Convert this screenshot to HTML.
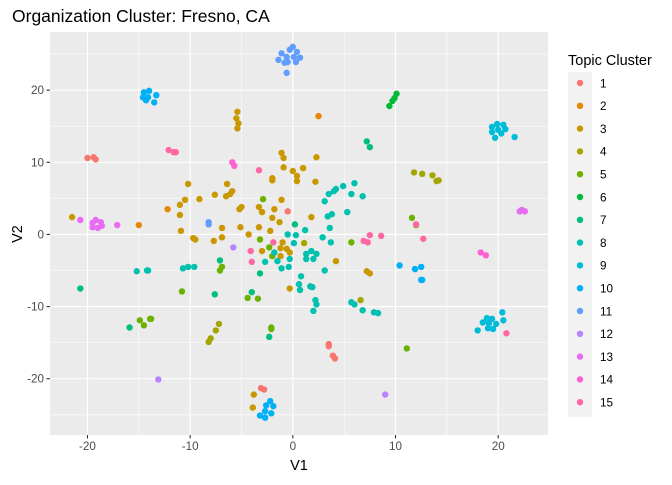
<!DOCTYPE html>
<html><head><meta charset="utf-8"><style>
body{margin:0;background:#fff;}
svg text{font-family:"Liberation Sans",Arial,sans-serif;}
</style></head><body>
<svg id="chart" width="672" height="480" xmlns="http://www.w3.org/2000/svg">
<text x="12" y="22" font-size="17.5" fill="#000">Organization Cluster: Fresno, CA</text>
<rect x="50" y="32" width="498" height="403" fill="#ebebeb"/>
<g id="grid"></g>
<g id="points"></g>
<g id="axes"></g>
<text x="299" y="470" font-size="14.5" text-anchor="middle">V1</text>
<text x="22" y="234" font-size="14.5" text-anchor="middle" transform="rotate(-90 22 234)">V2</text>
<g id="legend">
<text x="568" y="65" font-size="14.5">Topic Cluster</text>
</g>
</svg>
<script>
const xTicks=[-20,-10,0,10,20];
const yTicks=[-20,-10,0,10,20];
const clusterNames=["1","2","3","4","5","6","7","8","9","10","11","12","13","14","15"];
const colors=["#F8766D","#E58700","#C99800","#A3A500","#6BB100","#00BA38","#00BF7D","#00C0AF","#00BCD8","#00B0F6","#619CFF","#B983FF","#E76BF3","#FD61D1","#FF67A4"];
const c1=[[-20.0,10.6],[-19.4,10.7],[-19.2,10.4],[-0.5,3.2],[-3.1,-21.3],[-2.8,-21.5],[3.5,-15.2],[3.5,-15.5],[3.9,-16.8],[4.1,-17.2]];
const c2=[[-12.2,3.5],[-15.0,1.3],[2.5,16.4]];
const c3=[[-5.4,17.0],[-5.5,16.1],[-5.3,15.4],[-5.4,14.7],[-1.1,11.3],[-0.9,10.6],[-0.9,9.3],[-2.0,7.8],[-2.0,7.5],[0,8.8],[0.4,8.1],[0.4,7.4],[1.0,9.2],[2.3,10.7],[2.2,7.3],[1.8,2.4],[-10.2,7.0],[-6.4,7.0],[-5.9,6.0],[-6.1,5.6],[-6.5,5.3],[-7.6,5.5],[-9.1,4.9],[-10.5,4.8],[-11.0,4.1],[-11.0,2.7],[-10.9,0.5],[-5.2,3.5],[-5.0,3.8],[-3.3,3.8],[-3.0,3.1],[-1.8,3.5],[-1.1,4.8],[-2.0,2.3],[-1.3,1.7],[-2.2,0.5],[-3.3,1.0],[-5.1,1.0],[-4.3,0.0],[-6.9,0.9],[-21.5,2.4],[-9.7,-0.5],[-9.5,-0.7],[-7.7,-0.9],[-6.9,-0.4],[-3.0,-2.3],[-1.2,-1.9],[-1.0,-1.1],[-0.6,-2.0],[-0.3,-2.5],[-1.2,-3.0],[-0.3,-7.5],[4.2,-3.7],[7.2,-5.1],[7.5,-5.4],[-3.8,-22.2],[-3.9,-24.0]];
const c4=[[11.8,8.6],[12.6,8.4],[13.6,8.2],[14.0,7.4],[14.2,7.5],[6.6,-9.1],[-7.2,-12.4],[-7.5,-13.3],[-8.0,-14.4],[-8.2,-14.9],[1.1,-1.2]];
const c5=[[-2.9,4.9],[11.6,2.3],[-6.9,-4.5],[-7.1,-5.0],[-10.8,-7.9],[-4.4,-8.8],[-3.4,-8.9],[-3.2,-0.7],[-2.3,-1.8],[-2.0,-3.0],[-14.9,-11.9],[-14.5,-12.6],[-13.9,-11.7],[-13.8,-11.7],[-2.1,-12.9],[-2.1,-13.1],[5.7,-1.1],[11.1,-15.8],[12.0,1.3]];
const c6=[[10.1,19.5],[9.9,18.9],[9.7,18.5],[9.4,17.8]];
const c7=[[7.2,12.9],[7.5,12.1],[0.2,1.4],[-20.7,-7.5],[-7.1,-3.6],[-7.6,-8.3],[-4.0,-8.0],[-3.2,-5.4],[-2.3,-14.2],[-15.9,-12.9]];
const c8=[[6.0,7.1],[4.9,6.7],[4.2,6.3],[4.0,6.0],[3.5,5.6],[5.7,5.6],[6.8,5.3],[3.1,4.6],[5.3,3.1],[3.8,2.8],[3.4,2.5],[1.2,0.6],[3.6,0.9],[0.3,-0.1],[2.9,-0.4],[-0.5,0.0],[0.1,-1.2],[3.7,-1.1],[1.8,-2.3],[1.3,-2.7],[2.3,-2.7],[1.3,-3.4],[2.0,-3.4],[-1.8,-2.5],[-1.5,-3.7],[-0.3,-3.4],[-2.7,-3.8],[-1.1,-4.7],[-0.4,-4.5],[0.8,-5.8],[0.6,-6.9],[0.7,-7.7],[1.7,-7.2],[1.9,-7.3],[3.1,-5.0],[2.2,-9.1],[2.3,-9.7],[2.0,-10.6],[5.7,-9.4],[6.0,-9.7],[6.8,-10.5],[7.9,-10.8],[8.3,-10.9],[-10.7,-4.7],[-10.2,-4.5],[-9.6,-4.5],[-15.2,-5.1],[-14.2,-5.0],[-14.1,-5.0]];
const c9=[[19.4,14.9],[19.9,15.3],[20.5,15.2],[20.0,14.5],[20.7,14.6],[20.3,14.0],[19.4,14.2],[19.7,13.4],[21.6,13.5],[18.0,-13.3],[18.5,-12.2],[18.9,-11.6],[19.4,-11.7],[19.1,-12.3],[19.8,-12.4],[19.0,-13.0],[19.5,-13.1],[20.4,-10.8],[20.5,-11.9]];
const c10=[[-14.5,19.7],[-14.0,19.9],[-14.6,19.0],[-14.3,18.6],[-14.1,19.0],[-13.5,18.3],[-13.3,19.3],[10.4,-4.3],[11.9,-4.8],[12.5,-4.5],[12.5,-6.3],[12.6,-6.3],[-2.2,-23.1],[-2.6,-23.7],[-1.9,-23.8],[-2.7,-24.5],[-2.1,-24.8],[-3.2,-25.1],[-2.7,-25.4]];
const c11=[[-1.1,25.1],[-0.6,24.6],[-0.3,25.6],[-0.5,23.9],[-0.6,22.4],[0.1,24.6],[0.3,23.9],[0.4,25.3],[0.7,24.5],[-1.4,24.2],[0,26.0],[-0.8,23.8],[-8.2,1.7],[-8.2,1.4]];
const c12=[[-5.8,-1.8],[-13.1,-20.1],[9.0,-22.2]];
const c13=[[-20.7,2.0],[-19.2,2.0],[-19.5,1.6],[-18.7,1.7],[-19.5,1.0],[-19.0,0.9],[-18.6,1.2],[-17.1,1.3],[22.1,3.2],[22.3,3.4],[22.6,3.2]];
const c14=[[-5.9,10.0],[-5.7,9.5],[18.3,-2.5],[18.8,-2.9]];
const c15=[[-12.1,11.7],[-11.6,11.4],[-11.4,11.4],[-3.3,8.9],[-1.9,-1.1],[-4.1,-2.3],[-4.0,-3.8],[6.9,-0.9],[7.3,-1.1],[7.5,-0.1],[8.6,-0.2],[12.0,1.4],[12.7,-0.6],[20.8,-13.7]];
const series=[c1,c2,c3,c4,c5,c6,c7,c8,c9,c10,c11,c12,c13,c14,c15];

const NS="http://www.w3.org/2000/svg";
const PX0=50,PX1=548,PY0=32,PY1=435;
const XMIN=-23.65,XMAX=24.85,YMIN=-27.8,YMAX=28.06;
function sx(v){return PX0+(v-XMIN)/(XMAX-XMIN)*(PX1-PX0);}
function sy(v){return PY1-(v-YMIN)/(YMAX-YMIN)*(PY1-PY0);}
function mk(tag,attrs,parent){const e=document.createElementNS(NS,tag);for(const k in attrs)e.setAttribute(k,attrs[k]);parent.appendChild(e);return e;}
const grid=document.getElementById('grid'),axes=document.getElementById('axes'),pts=document.getElementById('points'),leg=document.getElementById('legend');
// minor grid
for(let i=0;i<xTicks.length+1;i++){
  const v=(i<xTicks.length?xTicks[i]:xTicks[xTicks.length-1]+10)-5;
  const x=sx(v);
  if(x>PX0&&x<PX1){const l=mk('line',{x1:x,x2:x,y1:PY0,y2:PY1,stroke:'#fff','stroke-width':0.55},grid);
  
  }
}
for(let i=0;i<yTicks.length+1;i++){
  const v=(i<yTicks.length?yTicks[i]:yTicks[yTicks.length-1]+10)-5;
  const y=sy(v);
  if(y>PY0&&y<PY1){const l=mk('line',{x1:PX0,x2:PX1,y1:y,y2:y,stroke:'#fff','stroke-width':0.55},grid);
  
  }
}
xTicks.forEach(v=>{
  const x=sx(v);
  const l=mk('line',{x1:x,x2:x,y1:PY0,y2:PY1,stroke:'#fff','stroke-width':1.1},grid);
  
  
  const t=mk('line',{x1:x,x2:x,y1:PY1,y2:PY1+3.5,stroke:'#333','stroke-width':1.1},axes);
  
  
  const tx=mk('text',{x:x,y:PY1+15,'font-size':11.7,'text-anchor':'middle',fill:'#4d4d4d'},axes);
  tx.textContent=v;
  
  
});
yTicks.forEach(v=>{
  const y=sy(v);
  const l=mk('line',{x1:PX0,x2:PX1,y1:y,y2:y,stroke:'#fff','stroke-width':1.1},grid);
  
  
  const t=mk('line',{x1:PX0-3.5,x2:PX0,y1:y,y2:y,stroke:'#333','stroke-width':1.1},axes);
  
  
  const tx=mk('text',{x:PX0-6,y:y+4,'font-size':11.7,'text-anchor':'end',fill:'#4d4d4d'},axes);
  tx.textContent=v;
  
  
});
series.forEach((s,i)=>{
  s.forEach(p=>{
    const c=mk('circle',{cx:sx(p[0]),cy:sy(p[1]),r:3.2,fill:colors[i]},pts);
    
    
  });
});
const kb=mk('rect',{x:568,y:72,width:24,height:345,fill:'#f2f2f2'},leg);


clusterNames.forEach((n,i)=>{
  const y=83+i*22.8;
  const c=mk('circle',{cx:580,cy:y,r:3.2,fill:colors[i]},leg);
  
  
  const t=mk('text',{x:600,y:y+4.3,'font-size':11.7,fill:'#000'},leg);
  t.textContent=n;
  
  
});
</script>
</body></html>
